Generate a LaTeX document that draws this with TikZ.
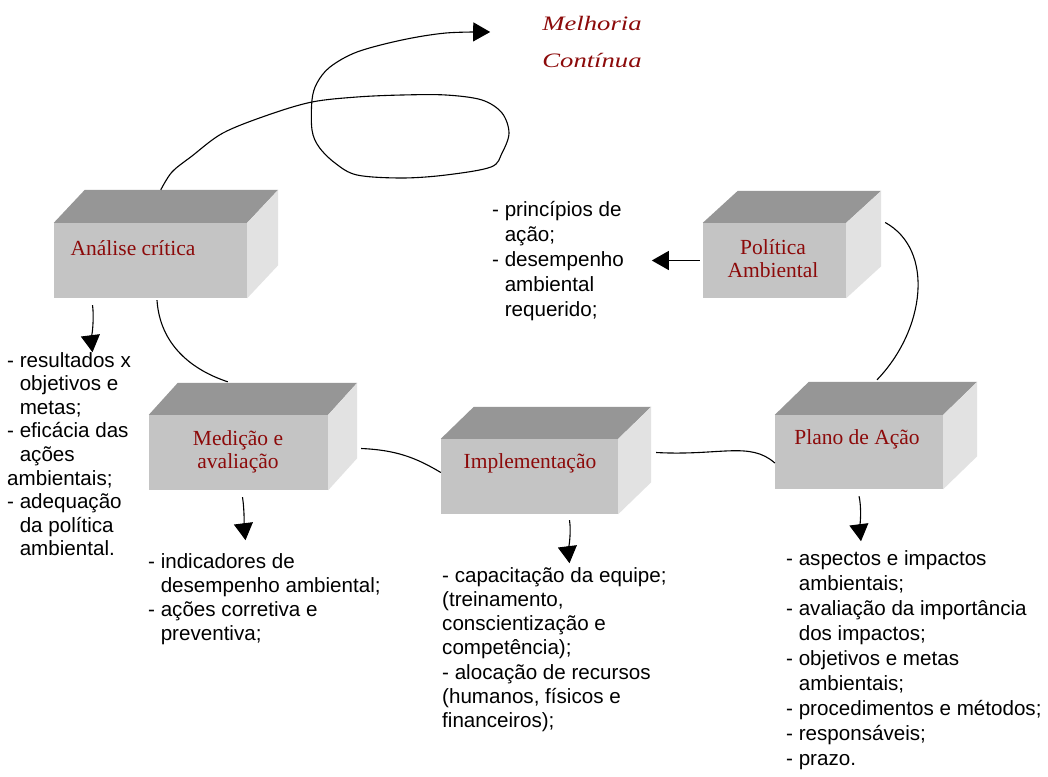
\documentclass[tikz,border=0pt]{standalone}
\usepackage{fontspec}
\usetikzlibrary{arrows.meta,calc}

\newfontfamily\bodyfont{Liberation Sans}
\newfontfamily\boxfont{Liberation Serif}
\newfontfamily\titlefont{Liberation Serif}[FakeStretch=1.3]

\definecolor{topgray}{RGB}{150,150,150}
\definecolor{frontgray}{RGB}{196,196,196}
\definecolor{sidegray}{RGB}{226,226,226}
\definecolor{labelred}{RGB}{140,10,10}

% lines of a text block, baselines exactly #1 apart, node baseline = first line
\newcommand{\txtlines}[2]{\vtop{\baselineskip=#1\lineskiplimit=-\maxdimen\lineskip=0pt\halign{##\hfil\cr#2\crcr}}}
\newcommand{\ind}{\hphantom{- }}

\tikzset{
  face/.style={rectangle, fill=frontgray, inner sep=0pt},
  boxlabel/.style={inner sep=0pt, text=labelred, font=\boxfont\fontsize{21.5}{23}\selectfont, align=center},
  bodytext/.style={inner sep=0pt, anchor=base west, font=\bodyfont\fontsize{20.6}{24}\selectfont},
  curve/.style={line width=1.1pt, black},
  arr/.style={curve, -{Triangle[length=17pt,width=19pt]}},
}

\begin{document}
\begin{tikzpicture}[x=1pt, y=-1pt]
\fill[white] (0,0) rectangle (1048,776);
\useasboundingbox (0,0) rectangle (1048,776);

% front faces of the five blocks
\node[face, minimum width=193pt, minimum height=75pt] (ana) at (150.5,260.5) {};
\node[face, minimum width=143pt, minimum height=75pt] (pol) at (774.5,260.5) {};
\node[face, minimum width=179pt, minimum height=75pt] (med) at (238.5,452.5) {};
\node[face, minimum width=177pt, minimum height=75pt] (imp) at (529.5,476.5) {};
\node[face, minimum width=168pt, minimum height=74pt] (pla) at (859,452) {};

% top and side faces
\foreach \n/\dx/\dy in {ana/31/33, pol/35/32, med/29/32, imp/33/32, pla/34/33} {
  \fill[topgray] (\n.north west) -- ++(\dx,-\dy) -- ([shift={(\dx,-\dy)}]\n.north east) -- (\n.north east) -- cycle;
  \fill[sidegray] (\n.north east) -- ++(\dx,-\dy) -- ([shift={(\dx,-\dy)}]\n.south east) -- (\n.south east) -- cycle;
}

% block labels
\node[boxlabel] (ana-l) at (133,248) {Análise crítica};
\node[boxlabel] (pol-l) at (773,259) {Política\\Ambiental};
\node[boxlabel] (med-l) at (238,452) {Medição e\\avaliação};
\node[boxlabel] (imp-l) at (530,463) {Implementação};
\node[boxlabel] (pla-l) at (857,439) {Plano de Ação};

% title
\node[text=labelred, font=\titlefont\itshape\fontsize{20.5}{37}\selectfont, align=center, inner sep=0pt] (mc) at (592,42) {Melhoria\\Contínua};

% text blocks
\node[bodytext] (t-ana) at (7,367) {\txtlines{23.6pt}{%
- resultados x\cr
\ind objetivos e\cr
\ind metas;\cr
- eficácia das\cr
\ind ações\cr
ambientais;\cr
- adequação\cr
\ind da política\cr
\ind ambiental.}};

\node[bodytext] (t-pol) at (492,216) {\txtlines{25pt}{%
- princípios de\cr
\ind ação;\cr
- desempenho\cr
\ind ambiental\cr
\ind requerido;}};

\node[bodytext] (t-med) at (148,568) {\txtlines{24.3pt}{%
- indicadores de\cr
\ind desempenho ambiental;\cr
- ações corretiva e\cr
\ind preventiva;}};

\node[bodytext] (t-imp) at (442,582) {\txtlines{24.3pt}{%
- capacitação da equipe;\cr
(treinamento,\cr
conscientização e\cr
competência);\cr
- alocação de recursos\cr
(humanos, físicos e\cr
financeiros);}};

\node[bodytext] (t-pla) at (786,565) {\txtlines{25pt}{%
- aspectos e impactos\cr
\ind ambientais;\cr
- avaliação da importância\cr
\ind dos impactos;\cr
- objetivos e metas\cr
\ind ambientais;\cr
- procedimentos e métodos;\cr
- responsáveis;\cr
- prazo.}};

% loop of continual improvement
\coordinate (loop-start) at ([shift={(107,-33)}]ana.north west);
\coordinate (loop-tip) at ([shift={(-52,-10)}]mc.west);
\draw[arr] plot[smooth, tension=0.55] coordinates {
  (loop-start) (172,172) (192,156) (223,133) (268,115) (312,102) (357,97) (402,95) (446,95)
  (482,100) (502,113) (509,133) (502,153) (491,167) (446,175) (402,178) (357,175)
  (335,163) (319,147) (312,130) (312,100) (317,83) (330,67) (357,52) (402,40) (446,33) (loop-tip)};

% connectors of the cycle
\draw[curve] ([shift={(6.5,2)}]ana.south) .. controls (160,345) and (192,370) .. ([shift={(79,-33)}]med.north west);
\draw[curve] ([shift={(33,-4)}]med.east) .. controls (395,450) and (415,457) .. ([yshift=4]imp.west);
\draw[curve] ([shift={(38,-24)}]imp.east) .. controls (720,456) and (750,441) .. ([yshift=-11]pla.west);
\draw[curve] ([shift={(39,-38)}]pol.east) .. controls (935,250) and (925,330) .. ([shift={(18,-35)}]pla.north);

% outputs of each block
\draw[arr] ([xshift=-3]pol.west) -- ++(-48,0);
\draw[arr] ([shift={(-58,7)}]ana.south) .. controls +(2,14) and +(-1,-8) .. ++(0,47);
\draw[arr] ([shift={(4,7)}]med.south) .. controls +(2,12) and +(-1,-8) .. ++(3,43);
\draw[arr] ([shift={(40,6)}]imp.south) .. controls +(2,12) and +(-1,-8) .. ++(0,43);
\draw[arr] ([shift={(0,7)}]pla.south) .. controls +(3,12) and +(-1,-8) .. ++(2,45);
\end{tikzpicture}
\end{document}
